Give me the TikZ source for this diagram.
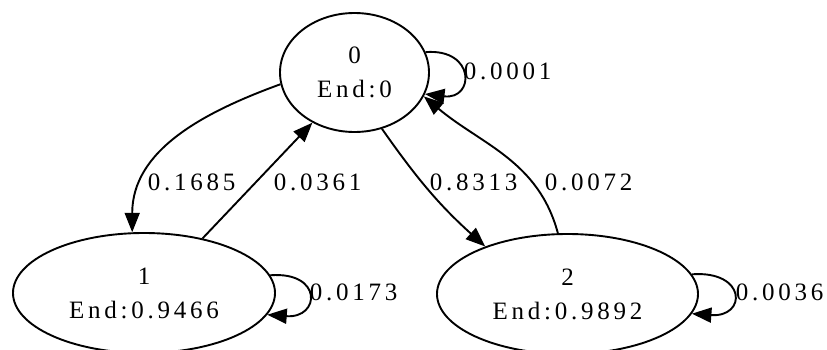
\documentclass[tikz,border=0pt]{standalone}
\usepackage{fontspec}
\setmainfont{Liberation Serif}[LetterSpace=15]
\usepackage{tikz}
\usetikzlibrary{shapes.geometric,arrows.meta,positioning}

\begin{document}
\begin{tikzpicture}[x=1pt, y=1pt, line width=1.9pt,
    state/.style={ellipse, draw=black, inner sep=0pt, align=center,
                  font=\fontsize{25}{34}\selectfont},
    prob/.style={anchor=west, inner sep=0pt, font=\fontsize{25}{30}\selectfont},
    arr/.style={-{Triangle[length=19.5pt, width=15pt]}, black}]

    \useasboundingbox (0,0) rectangle (827,349);

    % States
    \node[state, minimum width=149pt, minimum height=119pt] (s0) at (354.5,276.5) {0\\End:0};
    \node[state, minimum width=262pt, minimum height=120pt] (s1) at (144,56) {1\\End:0.9466};
    \node[state, minimum width=261pt, minimum height=120pt] (s2) at (567.5,55) {2\\End:0.9892};

    % Transitions
    \draw[arr] (s0.189) to[out=200, in=90] (s1.101.5);
    \draw[arr] (s1.43) -- (s0.230);
    \draw[arr] (s0.-64.5) to[out=-55, in=138] (s2.150.3);
    \draw[arr] (s2.99.8) to[out=105, in=-40] (s0.-19.2);

    % Self loops
    \draw[arr] (s0.16) .. controls +(50,4) and +(50,-6) .. (s0.-17);
    \draw[arr] (s1.8.3) .. controls +(53,4) and +(53,-4) .. (s1.-10.1);
    \draw[arr] (s2.9.1) .. controls +(55,4) and +(55,-4) .. (s2.-9.6);

    % Probabilities
    \node[prob] (p01) at (147,167) {0.1685};
    \node[prob] (p10) at (273,167) {0.0361};
    \node[prob] (p02) at (429,167) {0.8313};
    \node[prob] (p20) at (544,167) {0.0072};
    \node[prob] (p00) at (463,278) {0.0001};
    \node[prob] (p11) at (309,57) {0.0173};
    \node[prob] (p22) at (735,57) {0.0036};
\end{tikzpicture}
\end{document}
